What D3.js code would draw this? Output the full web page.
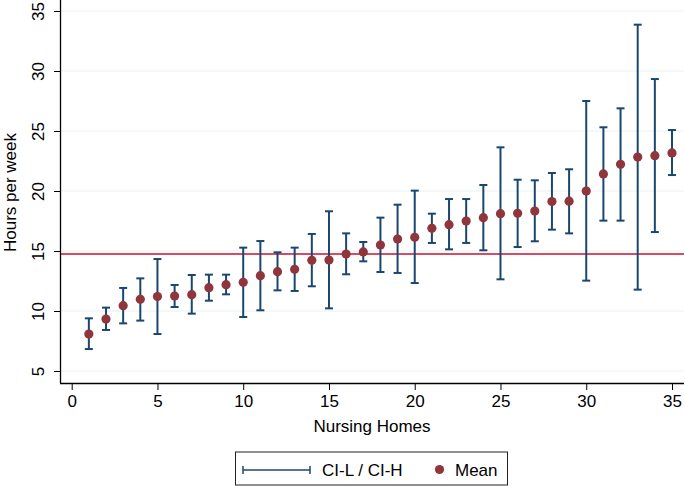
<!DOCTYPE html>
<html>
<head>
<meta charset="utf-8">
<script src="https://cdn.jsdelivr.net/npm/d3@7"></script>
<style>
  html, body { margin: 0; padding: 0; background: #ffffff; }
  svg { display: block; font-family: "Liberation Sans", Arial, Helvetica, sans-serif; }
</style>
</head>
<body>
<svg id="chart" width="685" height="486"></svg>
<script>
// ---- data ----
const homes = d3.range(1, 36);
const means = [8.08, 9.33, 10.44, 10.97, 11.2, 11.25, 11.36, 11.94, 12.19, 12.39,
               12.94, 13.28, 13.47, 14.22, 14.25, 14.75, 14.92, 15.5, 16.0, 16.14,
               16.89, 17.19, 17.5, 17.78, 18.11, 18.14, 18.33, 19.12, 19.15, 20.0,
               21.42, 22.22, 22.83, 22.94, 23.17];
const ciLow = [6.83, 8.42, 8.97, 9.2, 8.08, 10.33, 9.78, 10.86, 11.39, 9.5,
               10.06, 11.72, 11.67, 12.06, 10.22, 13.06, 14.14, 13.25, 13.17, 12.33,
               15.67, 15.14, 15.67, 15.06, 12.64, 15.33, 15.81, 16.78, 16.47, 12.53,
               17.53, 17.53, 11.78, 16.58, 21.33];
const ciHigh = [9.39, 10.28, 11.92, 12.72, 14.33, 12.17, 13.0, 13.03, 13.03, 15.28,
                15.83, 14.89, 15.28, 16.42, 18.31, 16.47, 15.75, 17.78, 18.86, 20.03,
                18.11, 19.33, 19.33, 20.5, 23.64, 20.94, 20.89, 21.5, 21.81, 27.5,
                25.31, 26.89, 33.86, 29.33, 25.08];
const refLine = 14.75;
const xTicks = [0, 5, 10, 15, 20, 25, 30, 35];
const yTicks = [5, 10, 15, 20, 25, 30, 35];
const xTitle = "Nursing Homes";
const yTitle = "Hours per week";
const legendLabels = ["CI-L / CI-H", "Mean"];

// ---- layout ----
const svg = d3.select("#chart");
const plotLeft = 60, plotRight = 684, plotTop = 0, plotBottom = 383;
const x = d3.scaleLinear().domain([0, 35]).range([71.7, 672]);
const y = d3.scaleLinear().domain([5, 35]).range([371, 11]);

const navy = "#1a476f", maroon = "#90353b", red = "#c8102e", grid = "#eaf1f3";
const fontSize = 17;

// grid lines
svg.append("g").selectAll("line").data(yTicks).join("line")
  .attr("x1", plotLeft).attr("x2", plotRight)
  .attr("y1", d => y(d)).attr("y2", d => y(d))
  .attr("stroke", grid).attr("stroke-width", 1.2);

// reference line
svg.append("line")
  .attr("x1", plotLeft).attr("x2", plotRight)
  .attr("y1", y(refLine)).attr("y2", y(refLine))
  .attr("stroke", red).attr("stroke-width", 1.6);

// error bars
const cap = 4;
const eb = svg.append("g").attr("stroke", navy).attr("stroke-width", 2).attr("fill", "none");
homes.forEach((h, i) => {
  const cx = x(h);
  eb.append("line").attr("x1", cx).attr("x2", cx).attr("y1", y(ciLow[i])).attr("y2", y(ciHigh[i]));
  eb.append("line").attr("x1", cx - cap).attr("x2", cx + cap).attr("y1", y(ciLow[i])).attr("y2", y(ciLow[i]));
  eb.append("line").attr("x1", cx - cap).attr("x2", cx + cap).attr("y1", y(ciHigh[i])).attr("y2", y(ciHigh[i]));
});

// means
svg.append("g").selectAll("circle").data(homes).join("circle")
  .attr("cx", d => x(d)).attr("cy", (d, i) => y(means[i]))
  .attr("r", 4.6).attr("fill", maroon);

// y axis
const yAxis = d3.axisLeft(y).tickValues(yTicks).tickSize(6).tickPadding(10);
const gy = svg.append("g").attr("transform", `translate(${plotLeft},0)`).call(yAxis);
gy.select(".domain").attr("d", `M0.5,${plotTop}V${plotBottom}`).attr("stroke", "#000").attr("stroke-width", 1.3);
gy.selectAll(".tick line").attr("stroke", "#000");
gy.selectAll(".tick text")
  .attr("font-size", fontSize).attr("fill", "#000")
  .attr("transform", "rotate(-90)")
  .attr("x", 0).attr("y", -16.5)
  .attr("dy", "0")
  .attr("text-anchor", "middle");

// x axis
const xAxis = d3.axisBottom(x).tickValues(xTicks).tickSize(7).tickPadding(5);
const gx = svg.append("g").attr("transform", `translate(0,${plotBottom})`).call(xAxis);
gx.select(".domain").attr("d", `M${plotLeft},0.5H${plotRight}`).attr("stroke", "#000").attr("stroke-width", 1.3);
gx.selectAll(".tick line").attr("stroke", "#000");
gx.selectAll(".tick text").attr("font-size", fontSize).attr("fill", "#000");

// axis titles
svg.append("text").attr("x", 372).attr("y", 432)
  .attr("text-anchor", "middle").attr("font-size", fontSize).text(xTitle);
svg.append("text")
  .attr("transform", `translate(16,${(plotTop + plotBottom) / 2 + 1}) rotate(-90)`)
  .attr("text-anchor", "middle").attr("font-size", fontSize).text(yTitle);

// legend
const lg = svg.append("g");
lg.append("rect").attr("x", 235.5).attr("y", 452).attr("width", 272).attr("height", 33)
  .attr("fill", "#fff").attr("stroke", "#222").attr("stroke-width", 1);
lg.append("line").attr("x1", 243).attr("x2", 310).attr("y1", 470).attr("y2", 470)
  .attr("stroke", navy).attr("stroke-width", 1.5);
[243, 310].forEach(xx => lg.append("line").attr("x1", xx).attr("x2", xx).attr("y1", 466).attr("y2", 474)
  .attr("stroke", navy).attr("stroke-width", 1.5));
lg.append("text").attr("x", 322).attr("y", 476).attr("font-size", fontSize).text(legendLabels[0]);
lg.append("circle").attr("cx", 439.5).attr("cy", 469.5).attr("r", 4.6).attr("fill", maroon);
lg.append("text").attr("x", 455).attr("y", 476).attr("font-size", fontSize).text(legendLabels[1]);
</script>
</body>
</html>
